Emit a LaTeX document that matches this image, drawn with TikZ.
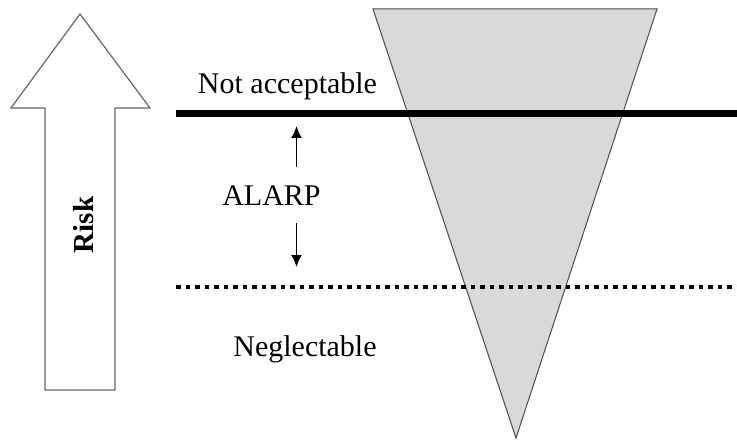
\documentclass[tikz,border=0pt]{standalone}
\usepackage{fontspec}
\setmainfont{Liberation Serif}
\usetikzlibrary{arrows.meta}
\begin{document}
\begin{tikzpicture}[x=1pt,y=-1pt,
  lbl/.style={inner sep=0pt,anchor=base,font=\fontsize{30}{35}\selectfont},
  bigarrow/.style={draw=black!60,line width=1.2pt,fill=white,line join=miter},
  funnel/.style={draw=black!70,line width=1pt,fill=black!15},
  smallarr/.style={line width=1.8pt,-{Latex[length=12pt,width=11pt]}}]
\useasboundingbox (0,0) rectangle (737,441);
% big risk arrow
\draw[bigarrow] (80,14) -- (150,108) -- (115,108) -- (115,390) -- (45,390) -- (45,108) -- (11,108) -- cycle;
\node[inner sep=0pt,rotate=90,font=\fontsize{29}{34}\selectfont\bfseries] (risk) at (84,225) {Risk};
% funnel
\draw[funnel] (373,9) -- (657,9) -- (516,438) -- cycle;
% lines
\coordinate (tl) at (176,113.5);
\coordinate (tr) at (737,113.5);
\coordinate (dl) at (176,287);
\coordinate (dr) at (737,287);
\draw[line width=6.5pt] (tl) -- (tr);
\draw[line width=4pt,dash pattern=on 4.5pt off 5pt] (dl) -- (dr);
% labels
\node[lbl] (na) at (287.5,94) {Not acceptable};
\node[lbl] (alarp) at (271.5,206) {ALARP};
\node[lbl] (neg) at (305,356) {Neglectable};
\coordinate (ua) at (296.5,167);
\coordinate (ub) at (296.5,126);
\coordinate (da) at (296.5,223);
\coordinate (db) at (296.5,267);
\draw[smallarr] (ua) -- (ub);
\draw[smallarr] (da) -- (db);
\end{tikzpicture}
\end{document}
